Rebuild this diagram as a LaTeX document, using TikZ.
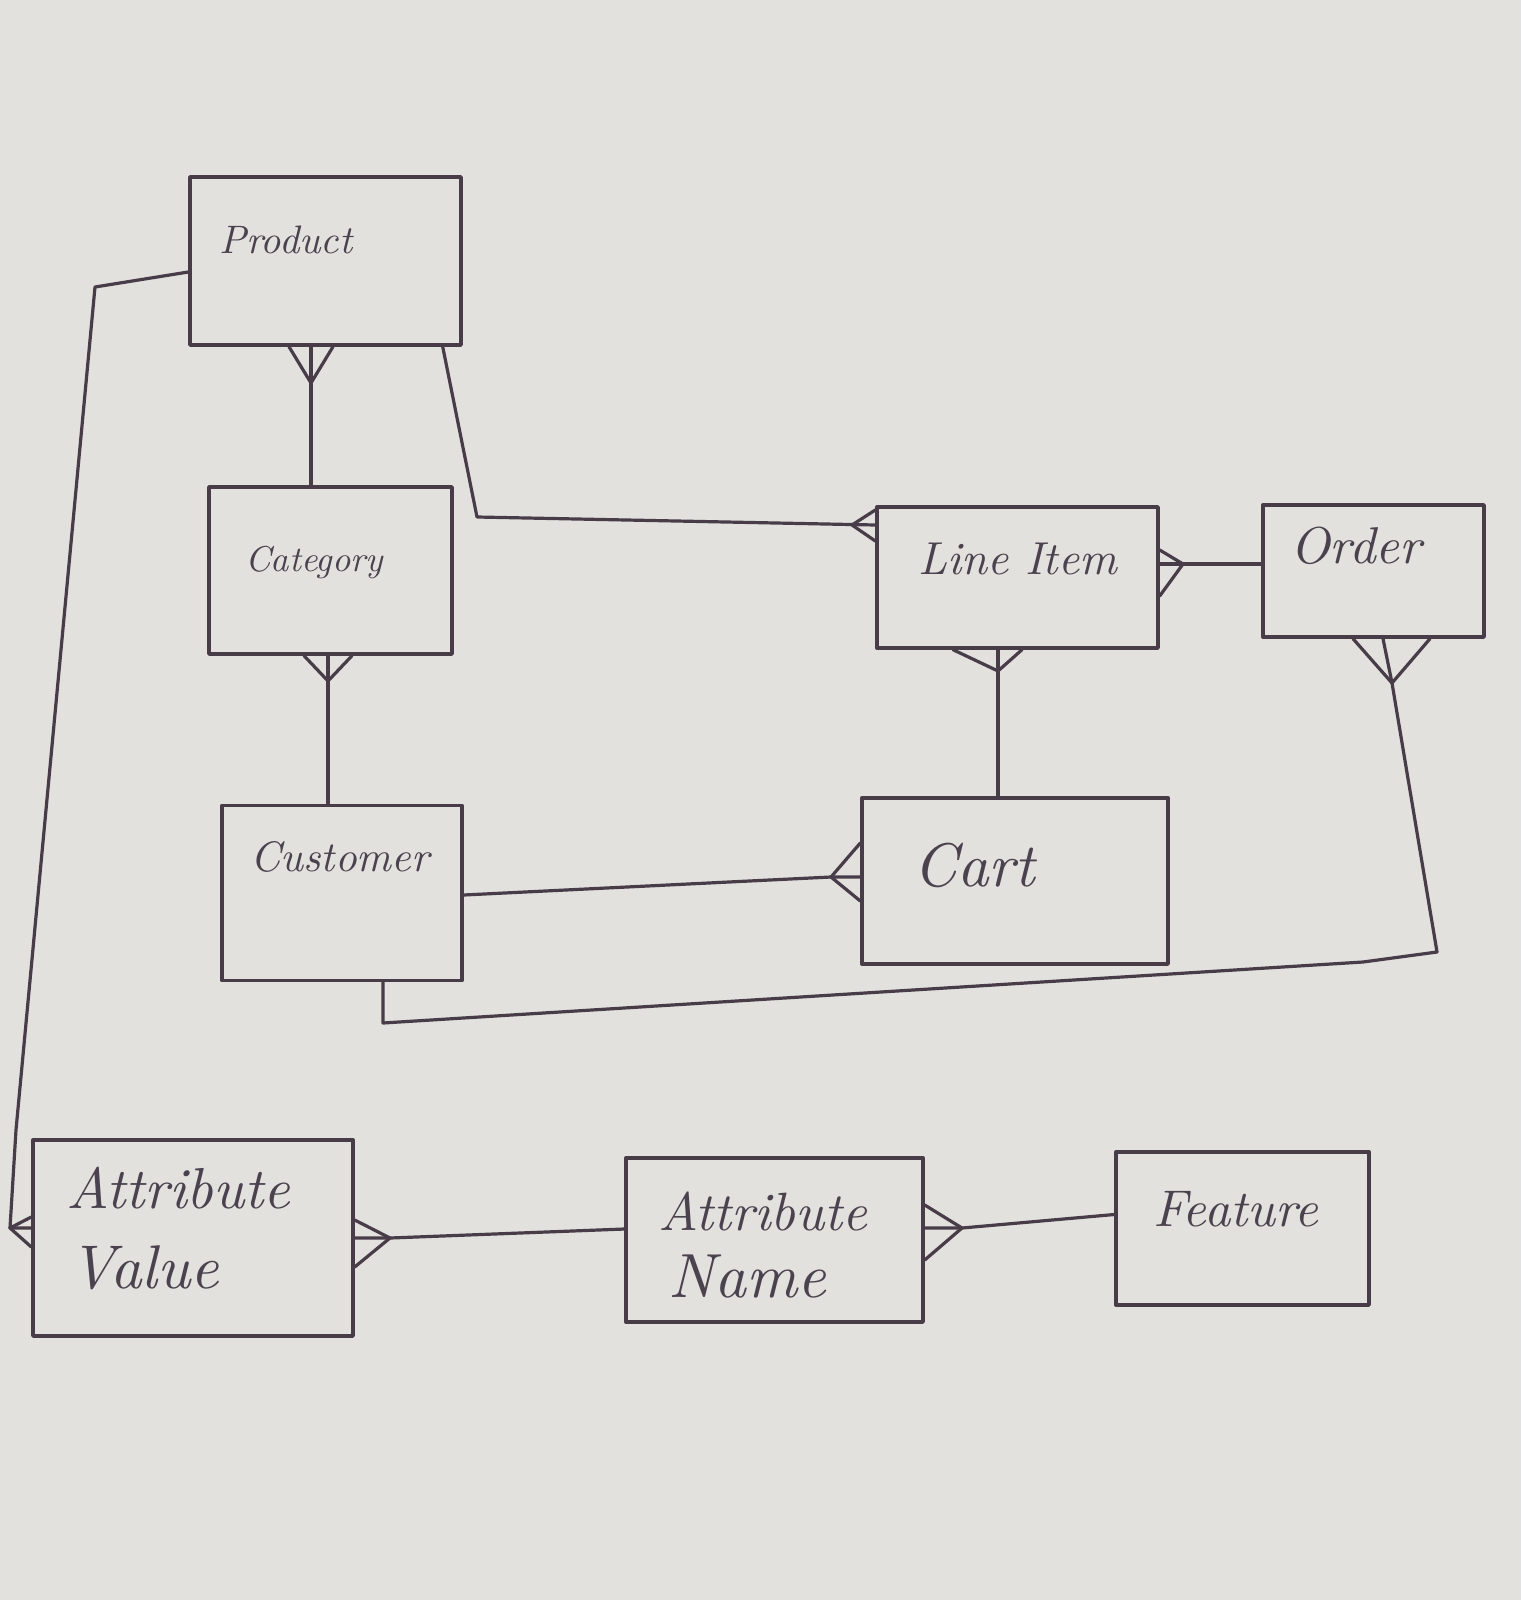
\documentclass[tikz,border=0pt]{standalone}
\usepackage{graphicx}
\usetikzlibrary{calc}
\definecolor{paper}{RGB}{226,225,221}
\definecolor{ink}{RGB}{72,60,72}
\definecolor{inktext}{RGB}{74,66,78}
\newcommand\hw[2]{\resizebox{#1pt}{!}{\itshape #2}}
\tikzset{
  entity/.style={draw=ink, line width=3.4pt, rectangle, inner sep=0pt, line join=round},
  etext/.style={text=inktext, inner sep=0pt, anchor=west},
  conn/.style={draw=ink, line width=3.2pt, line cap=round, line join=round},
}
\begin{document}
\begin{tikzpicture}[x=1pt,y=-1pt]
\fill[paper] (0,0) rectangle (1521,1600);
\useasboundingbox (0,0) rectangle (1521,1600);

% entities
\node[entity, minimum width=271pt, minimum height=168pt] (prod) at (325.5,261) {};
\node[entity, minimum width=243pt, minimum height=167pt] (cat) at (330.5,570.5) {};
\node[entity, minimum width=240pt, minimum height=175pt] (cus) at (342,893) {};
\node[entity, minimum width=281pt, minimum height=141pt] (li) at (1017.5,577.5) {};
\node[entity, minimum width=221pt, minimum height=132pt] (ord) at (1373.5,571) {};
\node[entity, minimum width=306pt, minimum height=166pt] (cart) at (1015,881) {};
\node[entity, minimum width=320pt, minimum height=196pt] (av) at (193,1238) {};
\node[entity, minimum width=297pt, minimum height=164pt] (an) at (774.5,1240) {};
\node[entity, minimum width=253pt, minimum height=153pt] (fea) at (1242.5,1228.5) {};

% labels
\node[etext] (tprod) at (219,240) {\hw{133}{Product}};
\node[etext] (tcat) at (245,563) {\hw{138}{Category}};
\node[etext] (tcus) at (250,857) {\hw{179}{Customer}};
\node[etext] (tli) at (918,559) {\hw{199}{Line Item}};
\node[etext] (tord) at (1290,546) {\hw{131}{Order}};
\node[etext] (tcart) at (913,865) {\hw{122}{Cart}};
\node[etext] (tav1) at (66,1188) {\hw{224}{Attribute}};
\node[etext] (tav2) at (69,1268) {\hw{150}{Value}};
\node[etext] (tan1) at (658,1211) {\hw{209}{Attribute}};
\node[etext] (tan2) at (668,1277) {\hw{158}{Name}};
\node[etext] (tfea) at (1153,1209) {\hw{165}{Feature}};

% crow's foot apexes and bends
\coordinate (cf1) at (311,383);
\coordinate (cf2) at (328,681);
\coordinate (b3) at (477,517);
\coordinate (cf3) at (852,525);
\coordinate (cf4) at (1183,564);
\coordinate (cf5) at (998,671);
\coordinate (cf6) at (831,877);
\coordinate (cf7) at (1392,683);
\coordinate (b7a) at (1437,952);
\coordinate (b7b) at (1363,962);
\coordinate (b7c) at (383,1023);
\coordinate (b8a) at (95,287);
\coordinate (b8b) at (16,1130);
\coordinate (cf8) at (10,1228);
\coordinate (cf9) at (390,1238);
\coordinate (cf10) at (962,1228);

% Product -- Category
\draw[conn] (cf1 |- cat.north) -- (cf1 |- prod.south);
\draw[conn] ([xshift=-22pt]cf1 |- prod.south) -- (cf1) -- ([xshift=22pt]cf1 |- prod.south);

% Category -- Customer
\draw[conn] (cf2 |- cus.north) -- (cf2 |- cat.south);
\draw[conn] ([xshift=-24pt]cf2 |- cat.south) -- (cf2) -- ([xshift=24pt]cf2 |- cat.south);

% Product -- Line Item
\draw[conn] ([xshift=-20pt]prod.south east) -- (b3) -- (cf3 -| li.west);
\draw[conn] ([yshift=15pt]cf3 -| li.west) -- (cf3) -- ([yshift=-16pt]cf3 -| li.west);

% Line Item -- Order
\draw[conn] (cf4 -| li.east) -- (cf4 -| ord.west);
\draw[conn] ([yshift=14pt]cf4 -| li.east) -- (cf4) -- ([yshift=-32pt]cf4 -| li.east);

% Line Item -- Cart
\draw[conn] (cf5 |- cart.north) -- (cf5 |- li.south);
\draw[conn] ([xshift=-45pt]cf5 |- li.south) -- (cf5) -- ([xshift=24pt]cf5 |- li.south);

% Customer -- Cart
\draw[conn] ([yshift=-2pt]cus.east) -- (cf6) -- (cf6 -| cart.west);
\draw[conn] ([yshift=34pt]cf6 -| cart.west) -- (cf6) -- ([yshift=-24pt]cf6 -| cart.west);

% Order -- Customer
\draw[conn] ([xshift=-9pt]cf7 |- ord.south) -- (cf7) -- (b7a) -- (b7b) -- (b7c) -- (b7c |- cus.south);
\draw[conn] ([xshift=-39pt]cf7 |- ord.south) -- (cf7) -- ([xshift=38pt]cf7 |- ord.south);

% Product -- Attribute Value
\draw[conn] ([yshift=-11pt]prod.west) -- (b8a) -- (b8b) -- (cf8) -- (cf8 -| av.west);
\draw[conn] ([yshift=11pt]cf8 -| av.west) -- (cf8) -- ([yshift=-19pt]cf8 -| av.west);

% Attribute Value -- Attribute Name
\draw[conn] (cf9 -| av.east) -- (cf9) -- ([yshift=11pt]an.west);
\draw[conn] ([yshift=18pt]cf9 -| av.east) -- (cf9) -- ([yshift=-29pt]cf9 -| av.east);

% Attribute Name -- Feature
\draw[conn] (cf10 -| an.east) -- (cf10) -- ([yshift=14pt]fea.west);
\draw[conn] ([yshift=23pt]cf10 -| an.east) -- (cf10) -- ([yshift=-32pt]cf10 -| an.east);
\end{tikzpicture}
\end{document}
